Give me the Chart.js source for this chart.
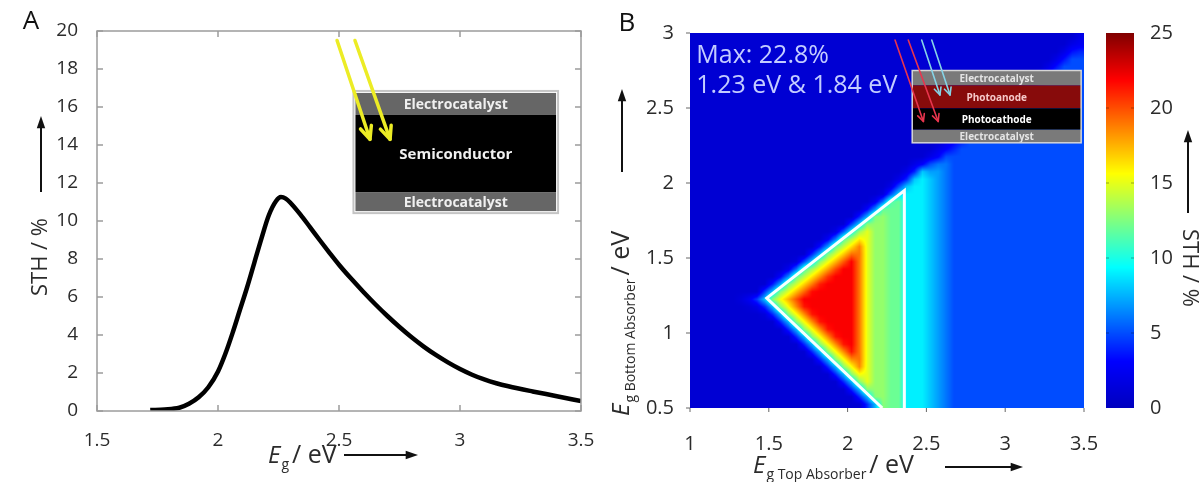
<!DOCTYPE html>
<html>
<head>
<meta charset="utf-8">
<title>Solar-to-hydrogen efficiency vs band gap</title>
<script src="https://cdn.jsdelivr.net/npm/chart.js@4.4.1/dist/chart.umd.min.js"></script>
<style>
  html, body { margin: 0; padding: 0; background: #fff; }
  #fig { position: relative; width: 1204px; height: 482px; overflow: hidden; background: #fff; }
  #fig canvas { position: absolute; top: 0; }
</style>
</head>
<body>
<div id="fig">
  <canvas id="panelA" width="600" height="482" style="left:0"></canvas>
  <canvas id="panelB" width="500" height="482" style="left:600px"></canvas>
  <canvas id="colorBar" width="114" height="482" style="left:1090px"></canvas>
</div>
<script>
const FONT = "'Open Sans', 'DejaVu Sans', sans-serif";
const INK = '#2b2b2b';

// ---------- Panel A: single absorber, STH (%) against band gap (eV)
const bandGap = [1.72, 1.78, 1.84, 1.88, 1.92, 1.96, 2.00, 2.03, 2.06, 2.09,
                 2.12, 2.15, 2.18, 2.21, 2.24, 2.26, 2.28, 2.30, 2.34, 2.38,
                 2.42, 2.46, 2.50, 2.55, 2.60, 2.65, 2.70, 2.75, 2.80, 2.85,
                 2.90, 2.95, 3.00, 3.05, 3.10, 3.15, 3.20, 3.30, 3.40, 3.50];
const sthSingle = [0.05, 0.08, 0.17, 0.38, 0.72, 1.25, 2.08, 3.00, 4.10, 5.30,
                   6.50, 7.80, 9.10, 10.30, 11.05, 11.26, 11.18, 10.95, 10.35, 9.68,
                   9.00, 8.34, 7.70, 6.97, 6.28, 5.62, 5.00, 4.42, 3.88, 3.39,
                   2.95, 2.56, 2.21, 1.91, 1.66, 1.46, 1.30, 1.03, 0.78, 0.52];
const bandGapTicks = [1.5, 2, 2.5, 3, 3.5];
const sthTicksA = [0, 2, 4, 6, 8, 10, 12, 14, 16, 18, 20];

// ---------- Panel B: tandem device, STH map over top / bottom absorber gaps
const topGapTicks = [1, 1.5, 2, 2.5, 3, 3.5];
const bottomGapTicks = [0.5, 1, 1.5, 2, 2.5, 3];
const mapTopStart = 1.0, mapBottomStart = 0.5, mapStep = 0.05;
// STH (%) per 0.05 eV cell; one row per bottom-absorber gap, highest first.
// "vxn" repeats value v n times; each row spans 50 top-absorber cells (1.0-3.5 eV).
const sthMapRows = [
  "1x49 2",
  "1x48 2 2.5",
  "1x47 2 3.5 4",
  "1x46 2 3.5 5x2",
  "1x45 2 3.5 5x3",
  "1x44 2 3.5 5x4",
  "1x43 2 3.5 5x5",
  "1x42 2 3.5 5x6",
  "1x40 2 3.5 5x8",
  "1x39 2 3.5 5x9",
  "1x38 2 3.5 5x10",
  "1x37 2 3.5 5x11",
  "1x35 2 3 4 5x12",
  "1x33 2 3 4 4 5x13",
  "1x32 2 3 4 5x15",
  "1x31 2 3 4 5x16",
  "1x30 2 3 5 5x17",
  "1x28 2 3 5 6 6 5x17",
  "1x27 2 4 8 7 7 6 5x17",
  "1x26 2 4 8 9 8 7 6 5x17",
  "1x25 2 5 8 9 9 8 7 6 5x17",
  "1x24 1.6 5.1 8.6 9x3 8 7 6 5x17",
  "1x23 2.4 5.9 11.3 12 9x3 8 7 6 5x17",
  "1x22 3.1 6.6 11.8 12 12 9x3 8 7 6 5x17",
  "1x21 3.9 7.4 12.4 13 12 12 9x3 8 7 6 5x17",
  "1x19 1.2 4.7 8.2 12.7 13 13 12 12 9x3 8 7 6 5x17",
  "1x18 1.9 5.4 9.5 13.2 15 13 13 12 12 9x3 8 7 6 5x17",
  "1x17 2.7 6.2 11.5 13.7 16 15 13 13 12 12 9x3 8 7 6 5x17",
  "1x16 3.5 7 11.9 14.2 16.4 18.7 15 13 13 12 12 9x3 8 7 6 5x17",
  "1x15 4.2 7.7 12.4 14.7 16.9 19.2 19 15 13 13 12 12 9x3 8 7 6 5x17",
  "1x13 1.5 5 8.5 12.9 15.2 17.4 19.7 21.9 19 15 13 13 12 12 9x3 8 7 6 5x17",
  "1x12 2.3 5.8 11.2 13.4 15.7 17.9 20.2 22 22 19 15 13 13 12 12 9x3 8 7 6 5x17",
  "1x11 3.1 6.6 11.7 13.9 16.2 18.4 20.7 22x3 19 15 13 13 12 12 9x3 8 7 6 5x17",
  "1x10 3.8 7.3 12.2 14.4 16.7 18.9 21.2 22x4 19 15 13 13 12 12 9x3 8 7 6 5x17",
  "1x9 4.6 8.1 12.7 14.9 17.2 19.4 21.7 22x5 19 15 13 13 12 12 9x3 8 7 6 5x17",
  "1x6 1.5 2.5 4.5 8 12.7 15.4 17.6 19.9 22x7 19 15 13 13 12 12 9x3 8 7 6 5x17",
  "1x7 1.3 2 4.1 7.6 12.7 15.6 18.5 21.4 22x6 19 15 13 13 12 12 9x3 8 7 6 5x17",
  "1x9 1.5 4.1 7.6 12.7 15.6 18.5 21.4 22x5 19 15 13 13 12 12 9x3 8 7 6 5x17",
  "1x11 4.1 7.6 12.7 15.6 18.5 21.4 22x4 19 15 13 13 12 12 9x3 8 7 6 5x17",
  "1x12 4.1 7.6 12.7 15.6 18.5 21.4 22x3 19 15 13 13 12 12 9x3 8 7 6 5x17",
  "1x13 4.1 7.6 12.7 15.6 18.5 21.4 22 22 19 15 13 13 12 12 9x3 8 7 6 5x17",
  "1x14 4.1 7.6 12.7 15.6 18.5 21.4 22 19 15 13 13 12 12 9x3 8 7 6 5x17",
  "1x15 4.1 7.6 12.7 15.6 18.5 21.4 19 15 13 13 12 12 9x3 8 7 6 5x17",
  "1x16 4.1 7.6 12.7 15.6 18.5 19 15 13 13 12 12 9x3 8 7 6 5x17",
  "1x17 4.1 7.6 12.7 15.6 18.5 15 13 13 12 12 9x3 8 7 6 5x17",
  "1x18 4.1 7.6 12.7 15.6 15 13 13 12 12 9x3 8 7 6 5x17",
  "1x19 4.1 7.6 12.7 15 13 13 12 12 9x3 8 7 6 5x17",
  "1x20 4.1 7.6 12.7 13 13 12 12 9x3 8 7 6 5x17",
  "1x21 4.1 7.6 12.7 13 12 12 9x3 8 7 6 5x17",
  "1x22 4.1 7.6 12.7 12 12 9x3 8 7 6 5x17"
];
// white outline of the high-efficiency region (top gap, bottom gap)
const outlineTopGap    = [2.22, 1.487, 2.36, 2.36];
const outlineBottomGap = [0.50, 1.233, 1.949, 0.50];
const maxNote = ['Max: 22.8%', '1.23 eV & 1.84 eV'];

// ---------- Colour scale
const colorTicks = [0, 5, 10, 15, 20, 25];
const jetStops  = [0, 3.125, 9.375, 15.625, 21.875, 25];
const jetColors = [[0, 0, 190], [0, 0, 255], [0, 255, 255], [255, 255, 0], [255, 0, 0], [128, 0, 0]];

// ---------- helpers
function parseRow(row) {
  const out = [];
  row.trim().split(/\s+/).forEach(tok => {
    const [v, n] = tok.split('x');
    for (let k = 0; k < (n ? +n : 1); k++) out.push(+v);
  });
  if (out.length !== 50) console.warn('map row has', out.length, 'cells:', row);
  while (out.length < 50) out.push(out[out.length - 1]);
  return out.slice(0, 50);
}
const sthGrid = sthMapRows.map(parseRow).reverse(); // index 0 = lowest bottom gap

function jet(v) {
  const n = jetStops.length;
  v = Math.max(jetStops[0], Math.min(jetStops[n - 1], v));
  for (let k = 1; k < n; k++) {
    if (v <= jetStops[k]) {
      const t = (v - jetStops[k - 1]) / (jetStops[k] - jetStops[k - 1]);
      const a = jetColors[k - 1], b = jetColors[k];
      return [a[0] + (b[0] - a[0]) * t, a[1] + (b[1] - a[1]) * t, a[2] + (b[2] - a[2]) * t];
    }
  }
  return jetColors[n - 1];
}

function arrow(ctx, x1, y1, x2, y2, o) {
  const ang = Math.atan2(y2 - y1, x2 - x1);
  ctx.save();
  ctx.strokeStyle = o.color; ctx.fillStyle = o.color; ctx.lineWidth = o.width;
  const hx = a => x2 - o.head * Math.cos(ang + a), hy = a => y2 - o.head * Math.sin(ang + a);
  if (o.filled) {
    const bx = x2 - o.head * 0.8 * Math.cos(ang), by = y2 - o.head * 0.8 * Math.sin(ang);
    ctx.beginPath(); ctx.moveTo(x1, y1); ctx.lineTo(bx, by); ctx.stroke();
    ctx.beginPath(); ctx.moveTo(x2, y2);
    ctx.lineTo(hx(-o.spread), hy(-o.spread)); ctx.lineTo(hx(o.spread), hy(o.spread));
    ctx.closePath(); ctx.fill();
  } else {
    ctx.lineCap = 'round'; ctx.lineJoin = 'round';
    ctx.beginPath(); ctx.moveTo(x1, y1); ctx.lineTo(x2, y2); ctx.stroke();
    ctx.beginPath();
    ctx.moveTo(hx(-o.spread), hy(-o.spread)); ctx.lineTo(x2, y2); ctx.lineTo(hx(o.spread), hy(o.spread));
    ctx.stroke();
  }
  ctx.restore();
}

// "E_sub / eV" axis title; returns its length along the baseline
function gapTitle(ctx, x, y, rot, sub) {
  ctx.save();
  ctx.translate(x, y); ctx.rotate(rot);
  ctx.fillStyle = INK; ctx.textAlign = 'left'; ctx.textBaseline = 'alphabetic';
  ctx.font = `italic 24px ${FONT}`;
  ctx.fillText('E', 0, 0);
  let cx = ctx.measureText('E').width + 1;
  ctx.font = `14px ${FONT}`;
  ctx.fillText(sub, cx, 6);
  cx += ctx.measureText(sub).width + 3;
  ctx.font = `25px ${FONT}`;
  ctx.fillText('/ eV', cx, 0);
  cx += ctx.measureText('/ eV').width;
  ctx.restore();
  return cx;
}

// layered device sketch
function stack(ctx, x0, y0, x1, y1, layers, border) {
  const H = y1 - y0;
  let yy = y0;
  layers.forEach(L => {
    const hh = L.f * H;
    ctx.fillStyle = L.fill;
    ctx.fillRect(x0, yy, x1 - x0, hh);
    ctx.fillStyle = L.ink; ctx.font = L.font;
    ctx.textAlign = 'center'; ctx.textBaseline = 'middle';
    ctx.fillText(L.text, (x0 + x1) / 2, yy + hh / 2 + 1);
    yy += hh;
  });
  ctx.strokeStyle = border.color; ctx.lineWidth = border.width;
  ctx.strokeRect(x0 - border.gap, y0 - border.gap, x1 - x0 + 2 * border.gap, y1 - y0 + 2 * border.gap);
}

const tickFont = size => ({ family: FONT, size });
const fixedTicks = list => axis => { axis.ticks = list.map(v => ({ value: v })); };
const fitX = h => s => { s.height = h; s.paddingLeft = 0; s.paddingRight = 0; };
const fitY = w => s => { s.width = w; s.paddingTop = 0; s.paddingBottom = 0; };
const blackArrow = { color: '#111', width: 2, head: 13, spread: 0.33, filled: true };

// ---------- Panel A plugin: box, inner ticks, inset sketch, titles
const panelADecor = {
  id: 'panelADecor',
  afterDraw(chart) {
    const { ctx, chartArea: a, scales: { x, y } } = chart;
    ctx.save();
    ctx.strokeStyle = '#9c9c9c'; ctx.lineWidth = 1.5;
    ctx.strokeRect(a.left, a.top, a.right - a.left, a.bottom - a.top);
    ctx.beginPath();
    bandGapTicks.forEach(v => {
      const px = x.getPixelForValue(v);
      ctx.moveTo(px, a.bottom); ctx.lineTo(px, a.bottom - 6);
      ctx.moveTo(px, a.top); ctx.lineTo(px, a.top + 6);
    });
    sthTicksA.forEach(v => {
      const py = y.getPixelForValue(v);
      ctx.moveTo(a.left, py); ctx.lineTo(a.left + 6, py);
      ctx.moveTo(a.right, py); ctx.lineTo(a.right - 6, py);
    });
    ctx.stroke();

    // device sketch
    const bx0 = x.getPixelForValue(2.568), bx1 = x.getPixelForValue(3.397);
    const by0 = y.getPixelForValue(16.74), by1 = y.getPixelForValue(10.52);
    stack(ctx, bx0, by0, bx1, by1, [
      { f: 0.186, fill: '#666666', text: 'Electrocatalyst', ink: '#f0f0f0', font: `bold 14px ${FONT}` },
      { f: 0.653, fill: '#000000', text: 'Semiconductor',   ink: '#f0f0f0', font: `bold 15px ${FONT}` },
      { f: 0.161, fill: '#666666', text: 'Electrocatalyst', ink: '#f0f0f0', font: `bold 14px ${FONT}` }
    ], { color: '#c4c4c4', width: 2, gap: 2 });
    const sun = { color: '#ecec25', width: 3.5, head: 14, spread: 0.42 };
    arrow(ctx, x.getPixelForValue(2.492), y.getPixelForValue(19.5), x.getPixelForValue(2.628), y.getPixelForValue(14.3), sun);
    arrow(ctx, x.getPixelForValue(2.566), y.getPixelForValue(19.5), x.getPixelForValue(2.711), y.getPixelForValue(14.3), sun);

    // titles
    ctx.fillStyle = '#111'; ctx.font = `26px ${FONT}`;
    ctx.textAlign = 'center'; ctx.textBaseline = 'middle';
    ctx.fillText('A', 31, 22);
    ctx.save();
    ctx.translate(a.left - 56, 257); ctx.rotate(-Math.PI / 2);
    ctx.fillStyle = INK; ctx.font = `22px ${FONT}`;
    ctx.fillText('STH / %', 0, 0);
    ctx.restore();
    arrow(ctx, a.left - 56, 192, a.left - 56, 116, blackArrow);
    gapTitle(ctx, 268, 463, 0, 'g');
    arrow(ctx, 344, 455, 418, 455, blackArrow);
    ctx.restore();
  }
};

// ---------- Panel B plugins: interpolated STH map, annotations
const sthMapLayer = {
  id: 'sthMapLayer',
  beforeDatasetsDraw(chart) {
    const { ctx, chartArea: a, scales: { x, y } } = chart;
    const w = Math.round(a.right - a.left), h = Math.round(a.bottom - a.top);
    const layer = document.createElement('canvas');
    layer.width = w; layer.height = h;
    const lctx = layer.getContext('2d');
    const img = lctx.createImageData(w, h);
    const rows = sthGrid.length, cols = sthGrid[0].length;
    const fxs = new Float32Array(w);
    for (let px = 0; px < w; px++) {
      const e = x.getValueForPixel(a.left + px + 0.5);
      fxs[px] = Math.min(cols - 1, Math.max(0, (e - mapTopStart) / mapStep - 0.5));
    }
    for (let py = 0; py < h; py++) {
      const e = y.getValueForPixel(a.top + py + 0.5);
      const fy = Math.min(rows - 1, Math.max(0, (e - mapBottomStart) / mapStep - 0.5));
      const j0 = Math.floor(fy), j1 = Math.min(rows - 1, j0 + 1), ty = fy - j0;
      const r0 = sthGrid[j0], r1 = sthGrid[j1];
      for (let px = 0; px < w; px++) {
        const fx = fxs[px];
        const i0 = Math.floor(fx), i1 = Math.min(cols - 1, i0 + 1), tx = fx - i0;
        const v = (r0[i0] * (1 - tx) + r0[i1] * tx) * (1 - ty) + (r1[i0] * (1 - tx) + r1[i1] * tx) * ty;
        const c = jet(v), o = (py * w + px) * 4;
        img.data[o] = c[0]; img.data[o + 1] = c[1]; img.data[o + 2] = c[2]; img.data[o + 3] = 255;
      }
    }
    lctx.putImageData(img, 0, 0);
    ctx.drawImage(layer, a.left, a.top);
  }
};

const panelBDecor = {
  id: 'panelBDecor',
  afterDraw(chart) {
    const { ctx, chartArea: a, scales: { x, y } } = chart;
    ctx.save();
    // outward ticks
    ctx.strokeStyle = '#666'; ctx.lineWidth = 1;
    ctx.beginPath();
    topGapTicks.forEach(v => { const px = x.getPixelForValue(v); ctx.moveTo(px, a.bottom); ctx.lineTo(px, a.bottom + 4); });
    bottomGapTicks.forEach(v => { const py = y.getPixelForValue(v); ctx.moveTo(a.left, py); ctx.lineTo(a.left - 4, py); });
    ctx.stroke();

    // maximum note
    ctx.fillStyle = '#c3ccff'; ctx.font = `25px ${FONT}`;
    ctx.textAlign = 'left'; ctx.textBaseline = 'alphabetic';
    ctx.fillText(maxNote[0], x.getPixelForValue(1.04), y.getPixelForValue(2.8));
    ctx.fillText(maxNote[1], x.getPixelForValue(1.04), y.getPixelForValue(2.6));

    // tandem device sketch
    const bx0 = x.getPixelForValue(2.41), bx1 = x.getPixelForValue(3.482);
    const by0 = y.getPixelForValue(2.75), by1 = y.getPixelForValue(2.268);
    const small = `bold 10px ${FONT}`;
    stack(ctx, bx0, by0, bx1, by1, [
      { f: 0.205, fill: '#7a7a7a', text: 'Electrocatalyst', ink: '#e4e4e4', font: small },
      { f: 0.318, fill: '#870b0b', text: 'Photoanode',      ink: '#f6c9c9', font: small },
      { f: 0.296, fill: '#000000', text: 'Photocathode',    ink: '#ffffff', font: small },
      { f: 0.181, fill: '#7a7a7a', text: 'Electrocatalyst', ink: '#e4e4e4', font: small }
    ], { color: '#d6d6d6', width: 1.5, gap: 0 });
    const red = { color: '#e8354e', width: 1.6, head: 8, spread: 0.45 };
    const cyan = { color: '#86d4e6', width: 1.6, head: 8, spread: 0.45 };
    arrow(ctx, x.getPixelForValue(2.301), y.getPixelForValue(2.953), x.getPixelForValue(2.481), y.getPixelForValue(2.41), red);
    arrow(ctx, x.getPixelForValue(2.385), y.getPixelForValue(2.953), x.getPixelForValue(2.575), y.getPixelForValue(2.41), red);
    arrow(ctx, x.getPixelForValue(2.47), y.getPixelForValue(2.953), x.getPixelForValue(2.586), y.getPixelForValue(2.587), cyan);
    arrow(ctx, x.getPixelForValue(2.534), y.getPixelForValue(2.953), x.getPixelForValue(2.65), y.getPixelForValue(2.587), cyan);

    // titles
    ctx.fillStyle = '#111'; ctx.font = `26px ${FONT}`;
    ctx.textAlign = 'center'; ctx.textBaseline = 'middle';
    ctx.fillText('B', 27, 24);
    gapTitle(ctx, 153, 473, 0, 'g Top Absorber');
    arrow(ctx, 345, 467, 423, 467, blackArrow);
    gapTitle(ctx, 29, 416, -Math.PI / 2, 'g Bottom Absorber');
    arrow(ctx, 22, 172, 22, 89, blackArrow);
    ctx.restore();
  }
};

// ---------- Colour bar plugin
const colorBarFill = {
  id: 'colorBarFill',
  beforeDraw(chart) {
    const { ctx, chartArea: a, scales: { y } } = chart;
    ctx.save();
    for (let py = Math.floor(a.top); py < Math.ceil(a.bottom); py++) {
      const c = jet(y.getValueForPixel(py + 0.5));
      ctx.fillStyle = `rgb(${Math.round(c[0])},${Math.round(c[1])},${Math.round(c[2])})`;
      ctx.fillRect(a.left, py, a.right - a.left, 1);
    }
    ctx.strokeStyle = 'rgba(0,0,0,0.35)'; ctx.lineWidth = 1;
    ctx.beginPath();
    colorTicks.slice(1, -1).forEach(v => {
      const py = y.getPixelForValue(v);
      ctx.moveTo(a.left, py); ctx.lineTo(a.left + 3, py);
      ctx.moveTo(a.right, py); ctx.lineTo(a.right - 3, py);
    });
    ctx.stroke();
    ctx.restore();
  },
  afterDraw(chart) {
    const { ctx } = chart;
    ctx.save();
    ctx.translate(99, 268); ctx.rotate(Math.PI / 2);
    ctx.fillStyle = INK; ctx.font = `22px ${FONT}`;
    ctx.textAlign = 'center'; ctx.textBaseline = 'middle';
    ctx.fillText('STH / %', 0, 0);
    ctx.restore();
    arrow(ctx, 98, 213, 98, 130, blackArrow);
  }
};

const common = {
  responsive: false, animation: false, devicePixelRatio: 1,
  plugins: { legend: { display: false }, tooltip: { enabled: false } }
};

// Panel A
new Chart(document.getElementById('panelA'), {
  type: 'line',
  data: {
    datasets: [{
      data: bandGap.map((g, i) => ({ x: g, y: sthSingle[i] })),
      borderColor: '#000', borderWidth: 4.5, pointRadius: 0,
      cubicInterpolationMode: 'monotone', fill: false
    }]
  },
  options: {
    ...common,
    layout: { padding: { top: 31, right: 19, left: 0, bottom: 0 } },
    scales: {
      x: {
        type: 'linear', min: 1.5, max: 3.5,
        afterBuildTicks: fixedTicks(bandGapTicks), afterFit: fitX(71),
        grid: { display: false }, border: { display: false },
        ticks: { color: INK, font: tickFont(19), padding: 10, maxRotation: 0, callback: v => String(v) }
      },
      y: {
        type: 'linear', min: 0, max: 20,
        afterBuildTicks: fixedTicks(sthTicksA), afterFit: fitY(97),
        grid: { display: false }, border: { display: false },
        ticks: { color: INK, font: tickFont(19), padding: 11, callback: v => String(v) }
      }
    }
  },
  plugins: [panelADecor]
});

// Panel B
new Chart(document.getElementById('panelB'), {
  type: 'line',
  data: {
    datasets: [{
      data: outlineTopGap.map((g, i) => ({ x: g, y: outlineBottomGap[i] })),
      borderColor: 'rgba(255,255,255,0.97)', borderWidth: 3, pointRadius: 0,
      borderJoinStyle: 'miter', tension: 0, fill: false
    }]
  },
  options: {
    ...common,
    layout: { padding: { top: 33, right: 16, left: 0, bottom: 0 } },
    scales: {
      x: {
        type: 'linear', min: 1, max: 3.5,
        afterBuildTicks: fixedTicks(topGapTicks), afterFit: fitX(74),
        grid: { display: false }, border: { display: false },
        ticks: { color: INK, font: tickFont(20), padding: 16, maxRotation: 0, callback: v => String(v) }
      },
      y: {
        type: 'linear', min: 0.5, max: 3,
        afterBuildTicks: fixedTicks(bottomGapTicks), afterFit: fitY(90),
        grid: { display: false }, border: { display: false },
        ticks: { color: INK, font: tickFont(20), padding: 8, callback: v => String(v) }
      }
    }
  },
  plugins: [sthMapLayer, panelBDecor]
});

// Colour bar
new Chart(document.getElementById('colorBar'), {
  type: 'scatter',
  data: { datasets: [] },
  options: {
    ...common,
    layout: { padding: { top: 33, right: 0, left: 16, bottom: 74 } },
    scales: {
      x: { display: false, min: 0, max: 1 },
      y: {
        type: 'linear', position: 'right', min: 0, max: 25,
        afterBuildTicks: fixedTicks(colorTicks), afterFit: fitY(70),
        grid: { display: false }, border: { display: false },
        ticks: { color: INK, font: tickFont(20), padding: 8, callback: v => String(v) }
      }
    }
  },
  plugins: [colorBarFill]
});
</script>
</body>
</html>
